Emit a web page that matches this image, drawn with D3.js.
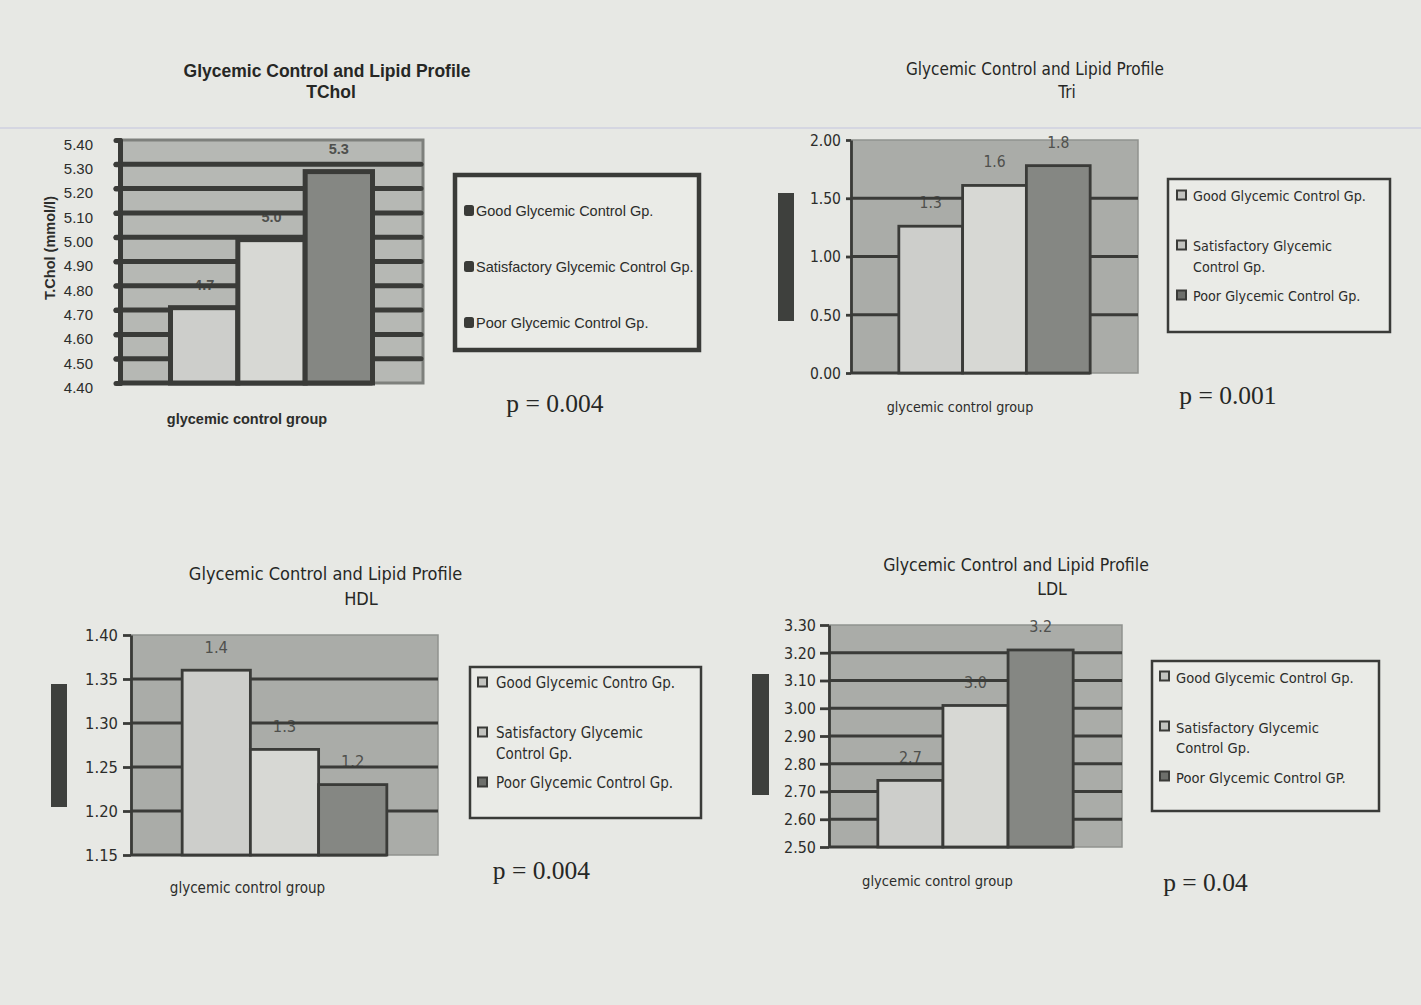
<!DOCTYPE html>
<html>
<head>
<meta charset="utf-8">
<script src="https://cdn.jsdelivr.net/npm/d3@7"></script>
<style>
  body { margin: 0; background: #e7e8e4; }
  svg { display: block; }
</style>
</head>
<body>
<script>
// ---------- data ----------
const groupKeys = ["good", "satisfactory", "poor"];

const tcholValues = [4.71, 4.99, 5.27];
const triValues   = [1.26, 1.61, 1.78];
const hdlValues   = [1.36, 1.27, 1.23];
const ldlValues   = [2.74, 3.01, 3.21];

const tcholTicks = [4.40, 4.50, 4.60, 4.70, 4.80, 4.90, 5.00, 5.10, 5.20, 5.30, 5.40];
const triTicks   = [0.00, 0.50, 1.00, 1.50, 2.00];
const hdlTicks   = [1.15, 1.20, 1.25, 1.30, 1.35, 1.40];
const ldlTicks   = [2.50, 2.60, 2.70, 2.80, 2.90, 3.00, 3.10, 3.20, 3.30];

const tcholLegend = [["Good Glycemic Control Gp."], ["Satisfactory Glycemic Control Gp."], ["Poor Glycemic Control Gp."]];
const triLegend   = [["Good Glycemic Control Gp."], ["Satisfactory Glycemic", "Control Gp."], ["Poor Glycemic Control Gp."]];
const hdlLegend   = [["Good Glycemic Contro Gp."], ["Satisfactory Glycemic", "Control Gp."], ["Poor Glycemic Control Gp."]];
const ldlLegend   = [["Good Glycemic Control Gp."], ["Satisfactory Glycemic", "Control Gp."], ["Poor Glycemic Control GP."]];

const chartTitle = "Glycemic Control and Lipid Profile";
const lipidNames = ["TChol", "Tri", "HDL", "LDL"];
const xAxisTitle = "glycemic control group";
const tcholAxisTitle = "T.Chol (mmol/l)";
const pLabels = ["p = 0.004", "p = 0.001", "p = 0.004", "p = 0.04"];

// ---------- page ----------
const W = 1421, H = 1005;
const svg = d3.select("body").append("svg").attr("width", W).attr("height", H);
svg.append("rect").attr("width", W).attr("height", H).attr("fill", "#e7e8e4");
svg.append("line").attr("x1", 0).attr("x2", W).attr("y1", 128).attr("y2", 128)
  .attr("stroke", "#cfd0e0").attr("stroke-width", 1.5);

const ink = "#3a3b38";
const barFill = { good: "#cdcecb", satisfactory: "#d7d8d4", poor: "#858783" };
const markerFill = { good: "#c2c3bf", satisfactory: "#c2c3bf", poor: "#6d6f6b" };
const fmt1 = d3.format(".1f");
const fmt2 = d3.format(".2f");
const SANS = "'Liberation Sans', Arial, sans-serif";
const LUCIDA = "'DejaVu Sans', sans-serif";
const SERIF = "'Liberation Serif', 'Times New Roman', serif";

function drawChart(cfg) {
  const g = svg.append("g");
  const heavy = cfg.heavy;
  const sw = heavy ? 5 : 2.8;
  const font = heavy ? SANS : LUCIDA;
  const cls = heavy ? "plain" : "cond";
  const s = cfg.scale;
  const p = cfg.plot;
  const pw = p.right - p.left;
  const gw = pw * 2 / 3;

  const y = d3.scaleLinear()
    .domain([cfg.ticks[0], cfg.ticks[cfg.ticks.length - 1]])
    .range([p.bottom, p.top]);
  const x = d3.scaleBand().domain(groupKeys)
    .range([p.left + (pw - gw) / 2, p.left + (pw + gw) / 2]);
  const data = groupKeys.map((k, i) => ({ key: k, value: cfg.values[i] }));

  // titles
  g.append("text").attr("class", cls)
    .attr("x", cfg.titlePos[0]).attr("y", cfg.titlePos[1])
    .attr("text-anchor", "middle").attr("dominant-baseline", "central")
    .attr("font-family", font).attr("font-weight", heavy ? "bold" : "normal")
    .attr("font-size", cfg.titleSize).attr("fill", "#262725").text(chartTitle);
  g.append("text").attr("class", cls)
    .attr("x", cfg.subPos[0]).attr("y", cfg.subPos[1])
    .attr("text-anchor", "middle").attr("dominant-baseline", "central")
    .attr("font-family", font).attr("font-weight", heavy ? "bold" : "normal")
    .attr("font-size", cfg.titleSize).attr("fill", "#262725").text(cfg.name);

  // plot area
  g.append("rect")
    .attr("x", p.left).attr("y", p.top).attr("width", pw).attr("height", p.bottom - p.top)
    .attr("fill", cfg.plotFill).attr("stroke", heavy ? "#7e807c" : "#90928e")
    .attr("stroke-width", heavy ? 3 : 1.5);

  // value labels (sit beneath the gridlines)
  g.selectAll("text.vlab").data(data).join("text")
    .attr("class", "vlab " + cls)
    .attr("x", d => x(d.key) + x.bandwidth() / 2)
    .attr("y", d => y(d.value) - 23)
    .attr("text-anchor", "middle").attr("dominant-baseline", "central")
    .attr("font-family", font).attr("font-weight", heavy ? "bold" : "normal")
    .attr("font-size", heavy ? 14.5 : 15.5 * s).attr("fill", "#4f504d")
    .text(d => fmt1(d.value));

  // gridlines
  g.selectAll("line.grid").data(cfg.ticks.slice(1, -1)).join("line")
    .attr("class", "grid")
    .attr("x1", heavy ? p.left - 4 : p.left).attr("x2", p.right - (heavy ? 2 : 0))
    .attr("y1", d => y(d)).attr("y2", d => y(d))
    .attr("stroke", ink).attr("stroke-width", heavy ? 5 : 2.8)
    .attr("stroke-linecap", heavy ? "round" : "butt");

  // baseline
  g.append("line")
    .attr("x1", p.left).attr("x2", x.range()[1])
    .attr("y1", p.bottom).attr("y2", p.bottom)
    .attr("stroke", ink).attr("stroke-width", sw);

  // bars
  g.selectAll("rect.bar").data(data).join("rect")
    .attr("class", "bar")
    .attr("x", d => x(d.key)).attr("width", x.bandwidth())
    .attr("y", d => y(d.value)).attr("height", d => p.bottom - y(d.value))
    .attr("fill", d => barFill[d.key])
    .attr("stroke", ink).attr("stroke-width", sw);

  // y axis
  const ax = g.append("g").attr("transform", `translate(${p.left},0)`)
    .call(d3.axisLeft(y).tickValues(cfg.ticks).tickFormat(fmt2)
      .tickSize(cfg.tickSize).tickSizeOuter(0).tickPadding(cfg.tickPad));
  ax.select(".domain").attr("stroke", ink).attr("stroke-width", sw)
    .attr("stroke-linecap", heavy ? "round" : "butt");
  ax.selectAll(".tick line").attr("stroke", ink).attr("stroke-width", heavy ? 5 : 2.8)
    .attr("stroke-linecap", heavy ? "round" : "butt");
  ax.selectAll(".tick text").attr("class", cls)
    .attr("font-family", font).attr("font-size", heavy ? 15 : 15.5 * s)
    .attr("fill", "#2c2d2b").attr("dy", heavy ? "0.62em" : "0.34em");

  // axis title placeholder block / rotated title
  if (cfg.block) {
    g.append("rect").attr("x", cfg.block[0]).attr("y", cfg.block[1])
      .attr("width", cfg.block[2]).attr("height", cfg.block[3]).attr("fill", "#3e403d");
  }
  if (cfg.yTitle) {
    g.append("text")
      .attr("transform", `translate(${cfg.yTitle.x},${cfg.yTitle.y}) rotate(-90)`)
      .attr("text-anchor", "middle").attr("dominant-baseline", "central")
      .attr("font-family", SANS).attr("font-weight", "bold").attr("font-size", 14.5)
      .attr("fill", "#2c2d2b").text(cfg.yTitle.text);
  }

  // category axis title
  g.append("text").attr("class", cls)
    .attr("x", cfg.xTitlePos[0]).attr("y", cfg.xTitlePos[1])
    .attr("text-anchor", "middle").attr("dominant-baseline", "central")
    .attr("font-family", font).attr("font-weight", heavy ? "bold" : "normal")
    .attr("font-size", heavy ? 14.5 : 14.2 * s).attr("fill", "#2c2d2b").text(xAxisTitle);

  // legend
  const L = cfg.legendBox;
  const lg = g.append("g");
  lg.append("rect").attr("x", L.x).attr("y", L.y).attr("width", L.w).attr("height", L.h)
    .attr("fill", "#eaebe7").attr("stroke", ink).attr("stroke-width", heavy ? 4.5 : 2.5);
  cfg.legend.forEach((lines, i) => {
    const yy = L.y + L.first + i * L.step;
    if (heavy) {
      lg.append("rect").attr("x", L.markerX).attr("y", yy - 6).attr("width", 10).attr("height", 11)
        .attr("rx", 2.5).attr("fill", ink);
    } else {
      lg.append("rect").attr("x", L.markerX).attr("y", yy - 5.5).attr("width", 9).attr("height", 9)
        .attr("fill", markerFill[groupKeys[i]]).attr("stroke", ink).attr("stroke-width", 2);
    }
    lines.forEach((ln, j) => {
      lg.append("text").attr("class", cls)
        .attr("x", L.textX).attr("y", yy + j * L.lineH)
        .attr("dominant-baseline", "central")
        .attr("font-family", font).attr("font-size", L.fontSize)
        .attr("fill", "#2c2d2b").text(ln);
    });
  });

  // significance
  g.append("text")
    .attr("x", cfg.pPos[0]).attr("y", cfg.pPos[1])
    .attr("text-anchor", "middle").attr("dominant-baseline", "central")
    .attr("font-family", SERIF).attr("font-size", 25.5).attr("fill", "#262725")
    .text(cfg.pLabel);
}

drawChart({
  name: lipidNames[0], heavy: true, scale: 1,
  values: tcholValues, ticks: tcholTicks, legend: tcholLegend, pLabel: pLabels[0],
  titlePos: [327, 71], subPos: [331, 92], titleSize: 17.5,
  plot: { left: 120, right: 423, top: 140, bottom: 383 }, plotFill: "#b6b8b4",
  tickSize: 4, tickPad: 23,
  yTitle: { x: 50, y: 248, text: tcholAxisTitle },
  xTitlePos: [247, 419], pPos: [555, 403],
  legendBox: { x: 455, y: 175, w: 244, h: 175, first: 36, step: 56, lineH: 20,
               markerX: 464, textX: 476, fontSize: 14.5 }
});

drawChart({
  name: lipidNames[1], heavy: false, scale: 1,
  values: triValues, ticks: triTicks, legend: triLegend, pLabel: pLabels[1],
  titlePos: [1035, 69], subPos: [1067, 92], titleSize: 17,
  plot: { left: 851, right: 1138, top: 140, bottom: 373 }, plotFill: "#aaaca8",
  tickSize: 5, tickPad: 5,
  block: [778, 193, 16, 128],
  xTitlePos: [960, 407], pPos: [1228, 395],
  legendBox: { x: 1168, y: 179, w: 222, h: 153, first: 17, step: 50, lineH: 21,
               markerX: 1177, textX: 1193, fontSize: 14.2 }
});

drawChart({
  name: lipidNames[2], heavy: false, scale: 1.06,
  values: hdlValues, ticks: hdlTicks, legend: hdlLegend, pLabel: pLabels[2],
  titlePos: [325.5, 573], subPos: [361, 598], titleSize: 18,
  plot: { left: 131, right: 438, top: 635, bottom: 855 }, plotFill: "#aaaca8",
  tickSize: 8, tickPad: 5,
  block: [51, 684, 16, 123],
  xTitlePos: [247.5, 888], pPos: [541.5, 870],
  legendBox: { x: 470, y: 667, w: 231, h: 151, first: 16, step: 50, lineH: 21,
               markerX: 478, textX: 496, fontSize: 15 }
});

drawChart({
  name: lipidNames[3], heavy: false, scale: 1.03,
  values: ldlValues, ticks: ldlTicks, legend: ldlLegend, pLabel: pLabels[3],
  titlePos: [1016, 565], subPos: [1052, 589], titleSize: 17.5,
  plot: { left: 829, right: 1122, top: 625, bottom: 847 }, plotFill: "#aaaca8",
  tickSize: 9, tickPad: 4,
  block: [752, 674, 17, 121],
  xTitlePos: [937.5, 880], pPos: [1205.5, 882],
  legendBox: { x: 1152, y: 661, w: 227, h: 150, first: 16, step: 50, lineH: 20.5,
               markerX: 1160, textX: 1176, fontSize: 14.6 }
});

// Narrow the humanist sans text so it sets as tightly as the chart face
svg.selectAll("text.cond").each(function () {
  const len = this.getComputedTextLength();
  if (len > 0) {
    this.setAttribute("textLength", (len * 0.9).toFixed(1));
    this.setAttribute("lengthAdjust", "spacingAndGlyphs");
  }
});
</script>
</body>
</html>
